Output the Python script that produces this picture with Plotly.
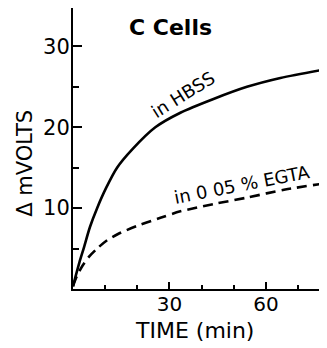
import plotly.graph_objects as go

# Data
t_hbss = [0, 0.7, 2.0, 3.3, 5.3, 7.5, 10.3, 13.7, 18.5, 25.6, 33.4, 43.7, 54.1, 64.5, 79]
v_hbss = [0.3, 1.4, 3.3, 5.0, 7.7, 10.0, 12.5, 15.0, 17.3, 20.0, 21.8, 23.5, 25.0, 26.1, 27.2]

t_egta = [0, 1.2, 3.0, 5.0, 7.5, 10.5, 14.0, 19.9, 27.2, 33.4, 43.7, 54.1, 66.0, 79]
v_egta = [0.4, 1.6, 2.9, 4.0, 5.0, 6.0, 6.8, 7.8, 8.8, 9.6, 10.5, 11.3, 12.3, 13.1]

x_tickvals = [30, 60]
x_ticklabels = ["30", "60"]
y_tickvals = [10, 20, 30]
y_ticklabels = ["10", "20", "30"]

title_text = "C Cells"
x_title = "TIME (min)"
y_title = "Δ mVOLTS"
label_hbss = "in HBSS"
label_egta = "in 0 05 % EGTA"

FONT = "DejaVu Sans"

fig = go.Figure()
fig.add_trace(go.Scatter(x=t_hbss, y=v_hbss, mode="lines",
                         line=dict(color="black", width=2.6, shape="spline", smoothing=0.8),
                         showlegend=False, hoverinfo="skip"))
fig.add_trace(go.Scatter(x=t_egta, y=v_egta, mode="lines",
                         line=dict(color="black", width=2.6, shape="spline", smoothing=0.8,
                                   dash="10px,6px"),
                         showlegend=False, hoverinfo="skip"))

fig.update_layout(
    width=319, height=340,
    margin=dict(l=65, r=0, t=0, b=59),
    paper_bgcolor="white", plot_bgcolor="white",
    font=dict(family=FONT, color="black", size=20),
    xaxis=dict(range=[0, 79], showgrid=False, zeroline=False,
               showline=True, linecolor="black", linewidth=2,
               ticks="inside", ticklen=7, tickwidth=1.5, tickcolor="black",
               tickvals=x_tickvals, ticktext=x_ticklabels,
               tickfont=dict(family=FONT, size=20, color="black"),
               ticklabelstandoff=-4,
               minor=dict(ticks="inside", ticklen=4, tickwidth=1.5, tickcolor="black",
                          dtick=10, tick0=0, showgrid=False)),
    yaxis=dict(range=[0, 34.75], showgrid=False, zeroline=False,
               showline=True, linecolor="black", linewidth=2,
               ticks="inside", ticklen=9, tickwidth=1.5, tickcolor="black",
               tickvals=y_tickvals, ticktext=y_ticklabels,
               tickfont=dict(family=FONT, size=21, color="black"),
               ticklabelstandoff=-3,
               minor=dict(ticks="inside", ticklen=6, tickwidth=1.5, tickcolor="black",
                          dtick=5, tick0=0, showgrid=False)),
    annotations=[
        dict(text="<b>" + title_text + "</b>", xref="paper", yref="paper",
             x=0.382, y=0.929, showarrow=False, xanchor="center", yanchor="middle",
             font=dict(family=FONT, size=22, color="black")),
        dict(text=x_title, xref="paper", yref="paper",
             x=0.48, y=-0.149, showarrow=False, xanchor="center", yanchor="middle",
             font=dict(family=FONT, size=22, color="black")),
        dict(text=y_title, xref="paper", yref="paper",
             x=-0.19, y=0.448, showarrow=False, xanchor="center", yanchor="middle",
             textangle=-90, font=dict(family=FONT, size=21, color="black")),
        dict(text=label_hbss, xref="x", yref="y", x=34.3, y=24.0,
             showarrow=False, xanchor="center", yanchor="middle", textangle=-32,
             font=dict(family=FONT, size=18, color="black")),
        dict(text=label_egta, xref="x", yref="y", x=52.5, y=12.95,
             showarrow=False, xanchor="center", yanchor="middle", textangle=-11,
             font=dict(family=FONT, size=18, color="black")),
    ],
)

fig.write_html("out.html")
